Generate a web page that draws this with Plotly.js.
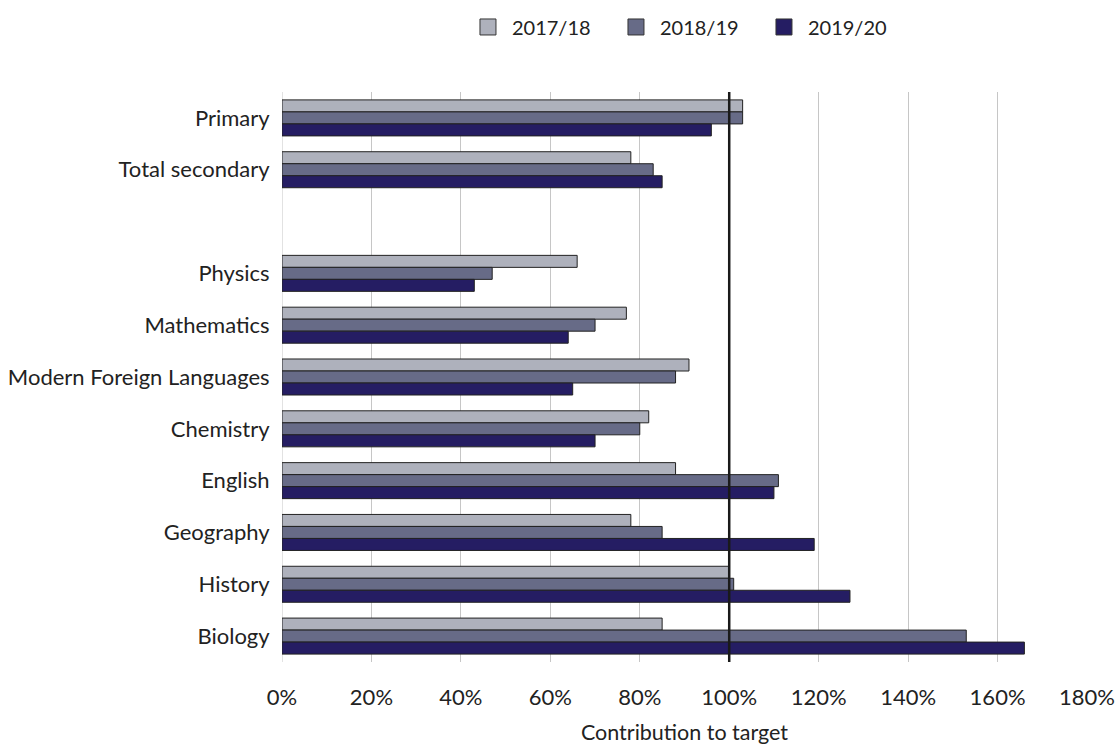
<!DOCTYPE html>
<html>
<head>
<meta charset="utf-8">
<script src="https://cdn.plot.ly/plotly-3.0.1.min.js"></script>
<style>html,body{margin:0;padding:0;background:#fff;}#chart{width:1118px;height:745px;}</style>
</head>
<body>
<div id="chart"></div>
<script>
const categories = ["Primary", "Total secondary", " ", "Physics", "Mathematics", "Modern Foreign Languages", "Chemistry", "English", "Geography", "History", "Biology"];
const seriesNames = ["2017/18", "2018/19", "2019/20"];
const values2017 = [103, 78, null, 66, 77, 91, 82, 88, 78, 100, 85];
const values2018 = [103, 83, null, 47, 70, 88, 80, 111, 85, 101, 153];
const values2019 = [96, 85, null, 43, 64, 65, 70, 110, 119, 127, 166];
const colors = ["#aeb1bc", "#676b87", "#251d63"];
const xTicks = [0, 20, 40, 60, 80, 100, 120, 140, 160, 180];
const xTickLabels = ["0%", "20%", "40%", "60%", "80%", "100%", "120%", "140%", "160%", "180%"];
const target = 100;

const allValues = [values2017, values2018, values2019];
const barTraces = allValues.map((vals, i) => ({
  type: "bar",
  orientation: "h",
  name: seriesNames[i],
  y: categories,
  x: vals,
  showlegend: false,
  marker: {color: colors[i], line: {color: "#222222", width: 1}},
  hoverinfo: "x+name"
}));
const legendTraces = seriesNames.map((n, i) => ({
  type: "scatter",
  mode: "markers",
  name: n,
  x: [null], y: [null],
  showlegend: true,
  marker: {symbol: "square", size: 16, color: colors[i], line: {color: "#333333", width: 1}}
}));

const font = "Lato, 'Open Sans', sans-serif";
const layout = {
  width: 1118, height: 745,
  margin: {l: 282, r: 31, t: 92, b: 83},
  paper_bgcolor: "#fff", plot_bgcolor: "#fff",
  barmode: "group",
  bargap: 0.305,
  bargroupgap: 0,
  font: {family: font, size: 21, color: "#222"},
  showlegend: true,
  legend: {orientation: "h", xref: "container", x: 0.415, xanchor: "left",
           yref: "container", y: 0.9638, yanchor: "middle",
           font: {family: font, size: 20, color: "#222"}, traceorder: "normal",
           itemwidth: 38, entrywidth: 95, entrywidthmode: "pixels"},
  xaxis: {
    range: [0, 180], tickvals: xTicks, ticktext: xTickLabels,
    showgrid: true, gridcolor: "#c6c6c6", gridwidth: 1,
    zeroline: false, showline: false,
    ticks: "outside", ticklen: 16, tickcolor: "rgba(0,0,0,0)",
    tickfont: {family: font, size: 22, color: "#222"},
    title: {text: "Contribution to target", font: {family: font, size: 21.5, color: "#222"}, standoff: 18},
    fixedrange: true
  },
  yaxis: {
    type: "category", categoryorder: "array", categoryarray: categories,
    autorange: "reversed",
    showgrid: false, zeroline: false, showline: false,
    ticks: "outside", ticklen: 7, tickcolor: "rgba(0,0,0,0)",
    tickfont: {family: font, size: 22, color: "#222"},
    fixedrange: true
  },
  shapes: [
    {type: "line", xref: "x", yref: "paper", x0: 0, x1: 0, y0: 0, y1: 1, line: {color: "#c6c6c6", width: 1}, layer: "below"},
    {type: "line", xref: "x", yref: "paper", x0: target, x1: target, y0: 0, y1: 1, line: {color: "#1a1a1a", width: 2.5}, layer: "above"}
  ]
};

Plotly.newPlot("chart", barTraces.concat(legendTraces), layout, {displayModeBar: false, staticPlot: true});
</script>
</body>
</html>
